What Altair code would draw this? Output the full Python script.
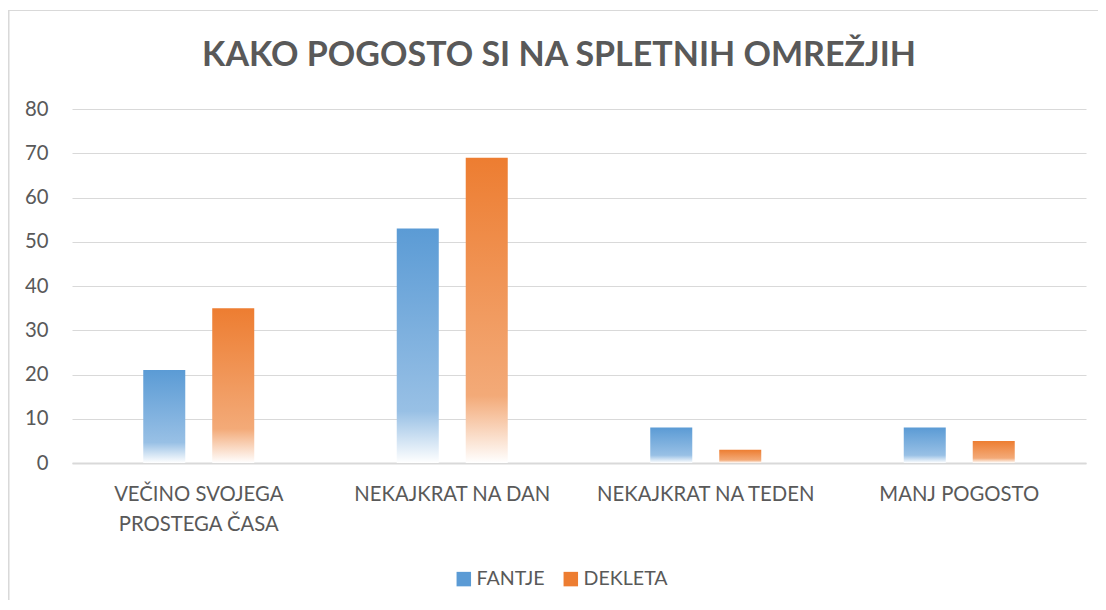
import altair as alt
import pandas as pd

title_text = "KAKO POGOSTO SI NA SPLETNIH OMREŽJIH"
categories = ["VEČINO SVOJEGA|PROSTEGA ČASA", "NEKAJKRAT NA DAN", "NEKAJKRAT NA TEDEN", "MANJ POGOSTO"]
series_names = ["FANTJE", "DEKLETA"]
fantje = [21, 53, 8, 8]
dekleta = [35, 69, 3, 5]

BLUE = "#5B9BD5"
ORANGE = "#ED7D31"
TEXT = "#595959"
GRID = "#D9D9D9"
FONT = "Lato"
FS = 20.3

rows = []
for i, c in enumerate(categories):
    rows.append({"category": c, "series": "FANTJE", "value": fantje[i]})
    rows.append({"category": c, "series": "DEKLETA", "value": dekleta[i]})
df = pd.DataFrame(rows)

W, H = 1014, 354
PAD = {"left": 64, "top": 101, "right": 12, "bottom": 137}

def grad(top, mid, bottom):
    return alt.LinearGradient(
        gradient="linear", x1=0, x2=0, y1=0, y2=1,
        stops=[
            alt.GradientStop(color=top, offset=0),
            alt.GradientStop(color=mid, offset=0.78),
            alt.GradientStop(color=bottom, offset=1),
        ],
    )

g_blue = grad(BLUE, "#98C0E5", "#FFFFFF")
g_orange = grad(ORANGE, "#F3AA78", "#FFFFFF")

base = alt.Chart(df)

frame = base.mark_rect(fill=None, stroke=GRID, strokeWidth=1.2).encode(
    x=alt.value(-PAD["left"] + 0.5),
    x2=alt.value(W + PAD["right"] + 10),
    y=alt.value(-PAD["top"] + 2.5),
    y2=alt.value(H + PAD["bottom"] + 10),
)

title = alt.Chart(pd.DataFrame({"t": [title_text]})).mark_text(
    font=FONT, fontSize=34, fontWeight="bold", color=TEXT, align="center", baseline="alphabetic"
).encode(text="t:N", x=alt.value(487), y=alt.value(-43))

bars = base.mark_bar().encode(
    x=alt.X("category:N", sort=categories,
            scale=alt.Scale(paddingInner=0.29, paddingOuter=0.145),
            axis=alt.Axis(title=None, labelAngle=0, labelExpr="split(datum.label, '|')",
                          labelFont=FONT, labelFontSize=FS, labelColor=TEXT,
                          labelPadding=21, labelLineHeight=30, labelLimit=400,
                          labelBaseline="top",
                          ticks=False, domainColor=GRID, domainWidth=2, grid=False)),
    xOffset=alt.XOffset("series:N", sort=series_names,
                        scale=alt.Scale(paddingInner=0.391, paddingOuter=0.5)),
    y=alt.Y("value:Q", scale=alt.Scale(domain=[0, 80]),
            axis=alt.Axis(title=None, values=list(range(0, 81, 10)), domain=False, ticks=False,
                          labelFont=FONT, labelFontSize=FS, labelColor=TEXT, labelPadding=24,
                          gridColor=GRID, gridWidth=1)),
    fill=alt.condition("datum.series == 'FANTJE'", alt.value(g_blue), alt.value(g_orange)),
)

legend_layer = base.mark_square(opacity=0, size=1).encode(
    color=alt.Color("series:N", sort=series_names,
                    scale=alt.Scale(domain=series_names, range=[BLUE, ORANGE]),
                    legend=alt.Legend(title=None, orient="none", legendX=382, legendY=460,
                                      direction="horizontal", symbolType="square", symbolSize=210,
                                      symbolOpacity=1, symbolStrokeWidth=0,
                                      labelFont=FONT, labelFontSize=19.6, labelColor=TEXT,
                                      labelOffset=3, columnPadding=16, padding=0)),
)

chart = alt.layer(frame, bars, legend_layer, title).properties(
    width=W, height=H,
    padding=PAD,
    autosize=alt.AutoSizeParams(type="none"),
    background="white",
).configure_view(stroke=None)

chart.save("out.html", embed_options={"renderer": "svg", "actions": False})
